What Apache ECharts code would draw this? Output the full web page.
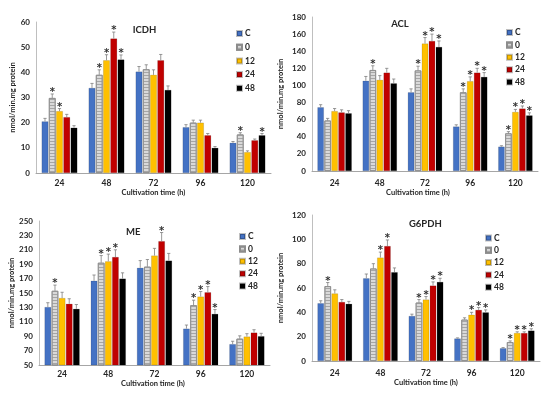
<!DOCTYPE html>
<html>
<head>
<meta charset="utf-8">
<script src="https://cdn.jsdelivr.net/npm/echarts@6/dist/echarts.min.js"></script>
<style>html,body{margin:0;padding:0;background:#fff}#c{width:550px;height:395px}</style>
</head>
<body>
<div id="c"></div>
<script>
const categories = ['24', '48', '72', '96', '120'];
const seriesNames = ['C', '0', '12', '24', '48'];
const seriesColors = ['#4472C4', '#D9D9D9', '#FFC000', '#C00000', '#000000'];

// ICDH (rows: C, 0, 12, 24, 48; columns: 24..120 h)
const icdhMean = [
  [20.5, 33.8, 40.3, 18.2, 12.0],
  [29.8, 39.0, 41.2, 20.0, 15.3],
  [24.6, 44.8, 39.0, 20.0, 8.3],
  [22.2, 53.4, 44.8, 15.0, 13.0],
  [18.0, 45.1, 33.0, 10.0, 15.0]
];
const icdhErr = [
  [1.2, 1.8, 2.0, 1.0, 0.5],
  [1.6, 2.0, 1.8, 1.0, 0.7],
  [1.0, 2.2, 2.0, 1.0, 0.5],
  [1.1, 2.6, 2.3, 0.7, 0.5],
  [0.8, 1.8, 1.6, 0.5, 0.7]
];
const icdhSig = [
  [0, 0, 0, 0, 0],
  [1, 1, 0, 0, 1],
  [1, 1, 0, 0, 0],
  [0, 1, 0, 0, 0],
  [0, 1, 0, 0, 1]
];

// ACL
const aclMean = [
  [74.5, 105.5, 92.0, 52.0, 28.5],
  [59.0, 118.0, 117.5, 92.0, 44.0],
  [70.0, 106.5, 149.0, 105.0, 69.0],
  [68.5, 115.0, 152.0, 115.0, 73.0],
  [67.5, 102.5, 145.0, 110.0, 65.0]
];
const aclErr = [
  [3, 5, 4, 2, 1],
  [2.5, 5, 5, 4, 2],
  [3, 5, 7, 5, 3],
  [3, 5, 8, 5, 3],
  [3, 5, 7, 5, 3]
];
const aclSig = [
  [0, 0, 0, 0, 0],
  [0, 1, 1, 1, 1],
  [0, 0, 1, 1, 1],
  [0, 0, 1, 1, 1],
  [0, 0, 1, 1, 1]
];

// ME
const meMean = [
  [130.5, 167.0, 185.0, 100.5, 79.0],
  [153.0, 192.0, 186.5, 133.0, 86.5],
  [143.0, 194.0, 202.0, 145.0, 89.5],
  [135.0, 200.0, 222.0, 151.0, 95.0],
  [128.0, 170.0, 195.0, 121.0, 90.0]
];
const meErr = [
  [6, 8, 10, 5, 4],
  [8, 10, 10, 7, 4],
  [8, 10, 10, 7, 4],
  [7, 10, 12, 8, 4],
  [6, 8, 10, 6, 4]
];
const meSig = [
  [0, 0, 0, 0, 0],
  [1, 1, 0, 1, 0],
  [0, 1, 0, 1, 0],
  [0, 1, 1, 1, 0],
  [0, 0, 0, 1, 0]
];

// G6PDH
const g6Mean = [
  [47.5, 68.0, 37.0, 18.5, 10.5],
  [61.5, 76.0, 48.0, 34.0, 15.5],
  [55.5, 85.0, 50.5, 38.0, 23.0],
  [48.5, 94.5, 62.0, 42.0, 23.0],
  [47.0, 73.0, 65.0, 40.0, 25.0]
];
const g6Err = [
  [2, 3.5, 1.5, 0.5, 0.5],
  [3, 4, 2.5, 1.5, 1],
  [3, 4.5, 2.5, 2, 1],
  [2, 5, 3, 2, 1],
  [2, 3.5, 3, 2, 1.5]
];
const g6Sig = [
  [0, 0, 0, 0, 0],
  [1, 0, 1, 0, 1],
  [0, 1, 1, 1, 1],
  [0, 1, 1, 1, 1],
  [0, 0, 1, 1, 1]
];

const icdhTicks = [0, 10, 20, 30, 40, 50, 60];
const aclTicks = [0, 20, 40, 60, 80, 100, 120, 140, 160, 180];
const meTicks = [50, 70, 90, 110, 130, 150, 170, 190, 210, 230, 250];
const g6Ticks = [0, 20, 40, 60, 80, 100, 120];

const FONT = 'Lato, "Open Sans", sans-serif';
const TXT = '#262626';
const CAT_GAP = 0.24, BAR_GAP = 0.08;

const panels = [
  {title: 'ICDH', mean: icdhMean, err: icdhErr, sig: icdhSig, ticks: icdhTicks,
   grid: {left: 36, top: 22, width: 235, height: 151}, titlePos: [139.5, 20],
   legend: {left: 236, top: 29, gap: 4.7}, yGap: 18, xGap: 15, xMargin: 6, xPad: 0},
  {title: 'ACL', mean: aclMean, err: aclErr, sig: aclSig, ticks: aclTicks,
   grid: {left: 312, top: 17, width: 226, height: 154}, titlePos: [395, 14],
   legend: {left: 506, top: 28, gap: 3.4}, yGap: 27, xGap: 18, xMargin: 7.5, xPad: 14},
  {title: 'ME', mean: meMean, err: meErr, sig: meSig, ticks: meTicks,
   grid: {left: 39, top: 221, width: 231, height: 144}, titlePos: [128.3, 222],
   legend: {left: 239, top: 232, gap: 3.4}, yGap: 20, xGap: 14, xMargin: 5, xPad: 3},
  {title: 'G6PDH', mean: g6Mean, err: g6Err, sig: g6Sig, ticks: g6Ticks,
   grid: {left: 312, top: 215, width: 228, height: 146}, titlePos: [420.3, 214],
   legend: {left: 485, top: 233.5, gap: 3.3}, yGap: 27, xGap: 17.5, xMargin: 7.5, xPad: 0}
];

function renderErr(params, api) {
  const ci = api.value(0), mean = api.value(1), err = api.value(2), sig = api.value(3), si = api.value(4);
  const n = seriesNames.length;
  const band = api.size([1, 0])[0];
  const avail = band * (1 - CAT_GAP);
  const bw = avail / (n + (n - 1) * BAR_GAP);
  const cx = api.coord([ci, mean])[0] - avail / 2 + si * bw * (1 + BAR_GAP) + bw / 2;
  const yBar = api.coord([ci, mean])[1];
  const yTop = api.coord([ci, mean + err])[1];
  const lineStyle = {stroke: '#7f7f7f', lineWidth: 0.8};
  const children = [
    {type: 'line', shape: {x1: cx, y1: yBar, x2: cx, y2: yTop}, style: lineStyle},
    {type: 'line', shape: {x1: cx - 1.6, y1: yTop, x2: cx + 1.6, y2: yTop}, style: lineStyle}
  ];
  if (sig) {
    children.push({type: 'text', style: {text: '*', x: cx, y: yTop - 1.5, align: 'center', verticalAlign: 'middle',
      fontSize: 10, fontWeight: 'bold', fontFamily: 'DejaVu Sans', fill: '#333'}});
  }
  return {type: 'group', children: children};
}

const option = {
  animation: false,
  backgroundColor: '#fff',
  title: [], legend: [], grid: [], xAxis: [], yAxis: [], series: []
};

panels.forEach((p, gi) => {
  option.title.push({text: p.title, left: p.titlePos[0], top: p.titlePos[1], textAlign: 'center',
    textStyle: {fontSize: 9.5, fontWeight: 'bold', color: TXT, fontFamily: FONT}});
  option.grid.push(Object.assign({containLabel: false}, p.grid));
  option.legend.push({data: seriesNames, orient: 'vertical', left: p.legend.left, top: p.legend.top,
    itemGap: p.legend.gap, itemWidth: 5, itemHeight: 5, icon: 'rect', padding: 0,
    textStyle: {fontSize: 8.5, fontWeight: 'bold', color: TXT, fontFamily: FONT, padding: [0, 0, 0, -2]},
    selectedMode: false});
  option.xAxis.push({type: 'category', gridIndex: gi, data: categories,
    name: 'Cultivation time (h)', nameLocation: 'middle', nameGap: p.xGap,
    nameTextStyle: {fontSize: 7.5, fontWeight: 'bold', color: TXT, fontFamily: FONT, padding: [0, p.xPad, 0, 0]},
    axisLine: {lineStyle: {color: '#a6a6a6', width: 1}}, axisTick: {show: false},
    axisLabel: {fontSize: 8.5, fontWeight: 'bold', color: TXT, fontFamily: FONT, margin: p.xMargin}});
  option.yAxis.push({type: 'value', gridIndex: gi, min: p.ticks[0], max: p.ticks[p.ticks.length - 1],
    name: 'nmol/min.mg protein', nameLocation: 'middle', nameGap: p.yGap,
    nameTextStyle: {fontSize: 7.5, fontWeight: 'bold', color: TXT, fontFamily: FONT},
    axisLine: {show: true, lineStyle: {color: '#bfbfbf', width: 1}}, axisTick: {show: false},
    splitLine: {show: false},
    axisLabel: {customValues: p.ticks, fontSize: 8, fontWeight: 'bold', color: TXT, fontFamily: FONT, margin: 6}});
  const errData = [];
  seriesNames.forEach((name, si) => {
    const isStripe = si === 1;
    option.series.push({
      type: 'bar', name: name, xAxisIndex: gi, yAxisIndex: gi, data: p.mean[si],
      barCategoryGap: (CAT_GAP * 100) + '%', barGap: (BAR_GAP * 100) + '%',
      itemStyle: {color: seriesColors[si], borderColor: isStripe ? '#8c8c8c' : 'rgba(0,0,0,0.25)', borderWidth: isStripe ? 0.8 : 0.5,
        decal: isStripe ? {symbol: 'rect', symbolSize: 1, dashArrayX: [1, 0], dashArrayY: [1, 1.2], rotation: 0, color: '#a6a6a6'} : null}
    });
    p.mean[si].forEach((v, ci) => errData.push([ci, v, p.err[si][ci], p.sig[si][ci], si]));
  });
  option.series.push({type: 'custom', name: 'err' + gi, xAxisIndex: gi, yAxisIndex: gi,
    renderItem: renderErr, data: errData, z: 5, silent: true,
    encode: {x: 0, y: 1}});
});

const chart = echarts.init(document.getElementById('c'), null, {renderer: 'canvas'});
chart.setOption(option);
</script>
</body>
</html>
